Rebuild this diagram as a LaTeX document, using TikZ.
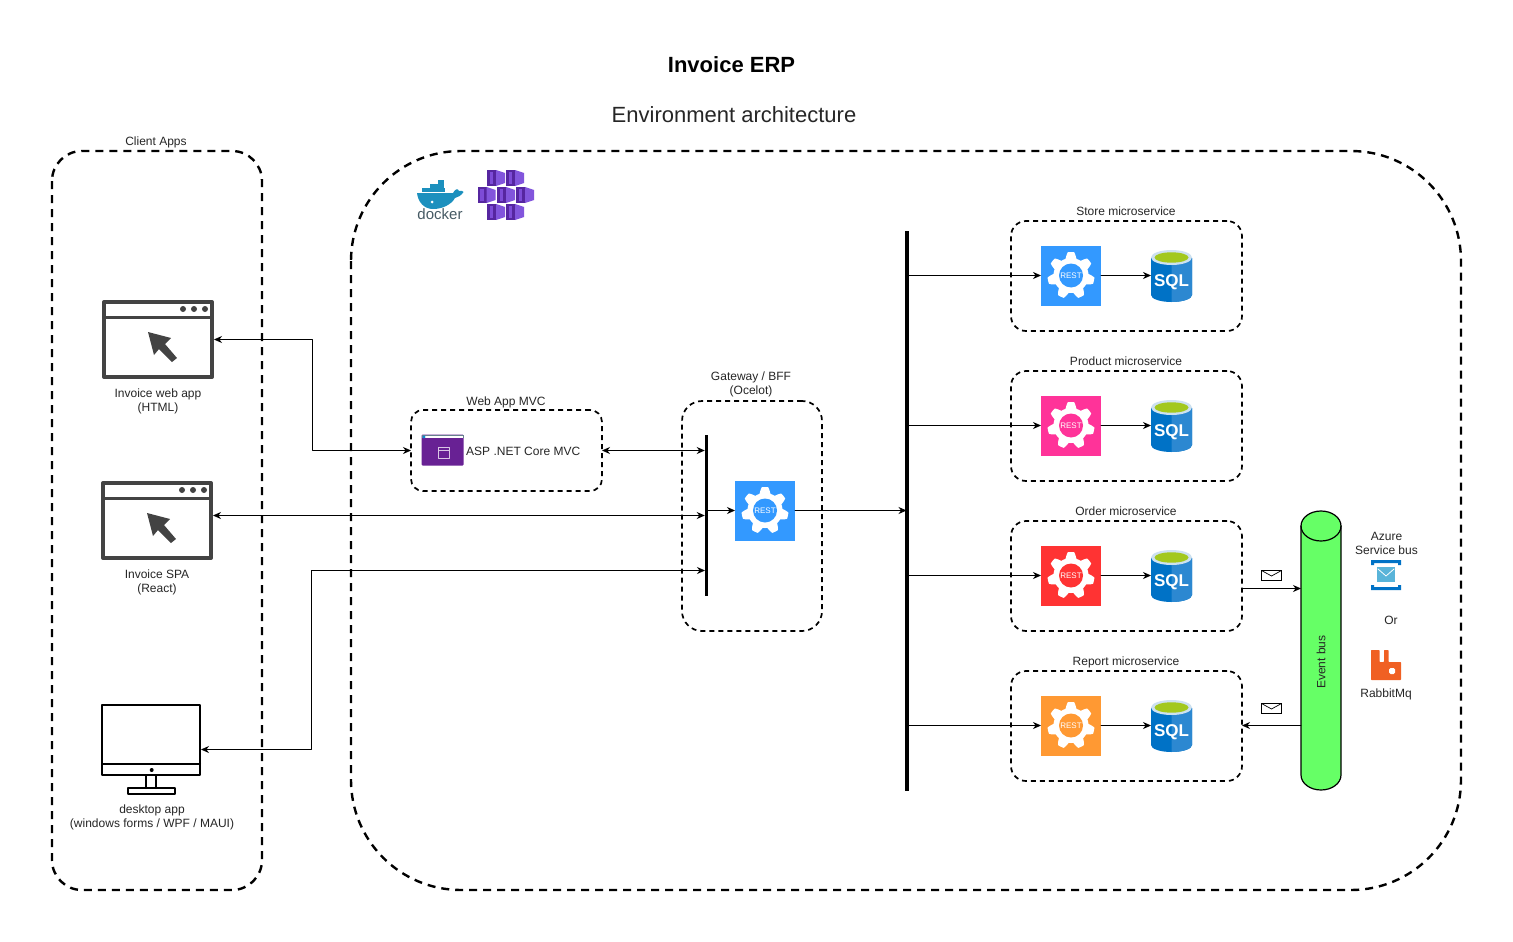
\documentclass[tikz,border=0pt]{standalone}
\usepackage{fontspec}
\setmainfont{Liberation Sans}
\usetikzlibrary{arrows.meta}
\begin{document}
\begin{tikzpicture}[x=1pt, y=-1pt, line cap=round, line join=round,
    >={Stealth[length=8pt,width=7pt]},
    link/.style={line width=0.8pt, ->},
    duplex/.style={line width=0.8pt, <->},
    label/.style={font=\fontsize{12}{14}\selectfont, text=black!85, align=center, inner sep=0pt},
    bigdash/.style={draw, line width=2.4pt, line cap=butt, dash pattern=on 8pt off 6pt},
    smalldash/.style={draw, line width=1.7pt, line cap=butt, dash pattern=on 5pt off 4pt},
    restbox/.style={minimum size=60pt, inner sep=0pt, outer sep=0pt},
    sqlbox/.style={minimum width=41pt, minimum height=52pt, inner sep=0pt, outer sep=0pt},
    windowbox/.style={draw=iconedge, line width=4pt, minimum width=108pt, minimum height=75pt, inner sep=0pt, outer sep=2pt},
    pics/restgear/.style={code={
      \fill[white,domain=0:360,samples=211]
        plot ({(20.5+3*max(-1,min(1,1.7*cos(7*(\x+90)))))*cos(\x)},{(20.5+3*max(-1,min(1,1.7*cos(7*(\x+90)))))*sin(\x)}) -- cycle;
      \fill[#1] (0,0) circle (12);
      \node[font=\fontsize{8}{9}\selectfont, text=white, inner sep=0pt] (-rest) at (0,0) {REST};
    }},
    pics/sqlicon/.style={code={
      \fill[sqlblue] (-20.5,-18) -- (-20.5,19) arc[x radius=20.5,y radius=7,start angle=180,end angle=0] -- (20.5,-18) -- cycle;
      \fill[sqllight] (0,-18) -- (0,26) arc[x radius=20.5,y radius=7,start angle=90,end angle=0] -- (20.5,-18) -- cycle;
      \fill[sqltop] (0,-18.5) ellipse (20.5 and 7.5);
      \fill[sqlgreen] (0,-18.5) ellipse (17 and 5.2);
      \node[font=\fontsize{17}{18}\bfseries\selectfont, text=white, inner sep=0pt] (-sql) at (0,6) {SQL};
    }},
    pics/browsericon/.style={code={
      \draw[iconedge,line width=3.5pt,line cap=butt] (-54,-22) -- (54,-22);
      \fill[iconedge] (25,-30.5) circle (3) (36,-30.5) circle (3) (47,-30.5) circle (3);
      \fill[iconedge] (-10,-7.5) -- (13,-1.5) -- (7,4.5) -- (19,18.5) -- (14,22.5) -- (1,9.5) -- (-4,15.5) -- cycle;
    }},
    pics/kubecube/.style={code={
      \fill[kubedark] (-9,-8) -- (0,-8) -- (0,8) -- (-9,8) -- cycle;
      \fill[kubemid] (-6.5,-6) -- (-3,-6) -- (-3,6) -- (-6.5,6) -- cycle;
      \fill[kubelight] (0,-8) -- (9,-5) -- (9,5) -- (0,8) -- cycle;
    }},
    pics/envelope/.style={code={
      \draw[line width=1pt,line join=miter,fill=white] (-10,-5) rectangle (10,5);
      \draw[line width=0.7pt] (-10,-5) -- (0,0.5) -- (10,-5);
    }}]
  \definecolor{iconedge}{RGB}{67,67,67}
  \definecolor{restblue}{RGB}{51,153,255}
  \definecolor{restpink}{RGB}{255,51,153}
  \definecolor{restred}{RGB}{255,51,51}
  \definecolor{restorange}{RGB}{255,153,51}
  \definecolor{sqlblue}{RGB}{0,114,198}
  \definecolor{sqllight}{RGB}{44,136,209}
  \definecolor{sqltop}{RGB}{205,225,240}
  \definecolor{sqlgreen}{RGB}{163,200,30}
  \definecolor{kubedark}{RGB}{86,38,160}
  \definecolor{kubemid}{RGB}{125,75,215}
  \definecolor{kubelight}{RGB}{130,85,220}
  \definecolor{mvcpurple}{RGB}{104,33,148}
  \definecolor{dockerblue}{RGB}{28,144,190}
  \definecolor{dockergray}{RGB}{70,90,100}
  \definecolor{busgreen}{RGB}{102,255,102}
  \definecolor{rabbitorange}{RGB}{240,96,35}
  \definecolor{azureblue}{RGB}{0,114,198}
  \definecolor{azuresky}{RGB}{89,180,217}
  \useasboundingbox (0,0) rectangle (1513,942);
  \fill[white] (0,0) rectangle (1513,942);

  \node[font=\fontsize{22}{24}\bfseries\selectfont, inner sep=0pt] (title) at (731.5,65) {Invoice ERP};
  \node[font=\fontsize{22}{24}\selectfont, text=black!85, inner sep=0pt] (subtitle) at (734,115) {Environment architecture};

  % outer frames
  \draw[bigdash, rounded corners=30pt] (52,151) rectangle (262,890);
  \draw[bigdash, rounded corners=110pt] (351,151) rectangle (1461,890);
  \node[label] (clientlabel) at (156,142) {Client Apps};

  % docker and container logos
  \fill[dockerblue] (417,193) -- (453,193) .. controls (455,189) and (458,188) .. (459,191) .. controls (461,190) and (463,191) .. (463.5,192) .. controls (461,196) and (458,197) .. (455,198) .. controls (451,205) and (442,209) .. (433,209) .. controls (424,209) and (418,202) .. (417,193);
  \fill[dockerblue] (422,188) rectangle (445,192);
  \fill[dockerblue] (430,184) rectangle (444,187.5);
  \fill[dockerblue] (438,180) rectangle (444,183.5);
  \fill[white] (432,202) circle (1.5);
  \node[font=\fontsize{15}{16}\selectfont, text=dockergray, inner sep=0pt] (dockertext) at (440,214.5) {docker};
  \pic at (496,178) {kubecube};
  \pic at (515,178) {kubecube};
  \pic at (486.5,195) {kubecube};
  \pic at (506,195) {kubecube};
  \pic at (525,195) {kubecube};
  \pic at (496,212) {kubecube};
  \pic at (515,212) {kubecube};

  % client apps
  \node[windowbox] (webapp) at (158,339.5) {};
  \pic at (webapp) {browsericon};
  \node[label] (weblabel) at (158,401) {Invoice web app\\(HTML)};
  \node[windowbox] (spa) at (157,520.5) {};
  \pic at (spa) {browsericon};
  \node[label] (spalabel) at (157,582) {Invoice SPA\\(React)};
  \node[draw, line width=2pt, minimum width=98pt, minimum height=70.5pt, inner sep=0pt, outer sep=1pt] (desktop) at (151,739.75) {};
  \draw[line width=2pt] (102,764) -- (200,764);
  \fill (151.7,770) circle (2);
  \draw[line width=2pt] (145.7,775) -- (145.7,788) (156.3,775) -- (156.3,788);
  \draw[line width=2pt] (128,788) rectangle (175,794);
  \node[label] (desktoplabel) at (152,817) {desktop app\\(windows forms / WPF / MAUI)};

  % web app
  \node[smalldash, rounded corners=12pt, minimum width=191pt, minimum height=81pt, inner sep=0pt, outer sep=0pt] (mvcbox) at (506.5,450.5) {};
  \node[label] (mvclabel) at (506,402) {Web App MVC};
  \node[fill=mvcpurple, minimum width=42pt, minimum height=31pt, inner sep=0pt, rounded corners=1pt] (mvcicon) at (442.5,450) {};
  \fill[black!50!cyan!60!gray] (421.5,434.5) rectangle (463.5,438);
  \fill[white] (424,436) rectangle (463,438);
  \fill[cyan!70!blue] (424,437) circle (1.6);
  \draw[white!75!mvcpurple, line width=0.7pt, line cap=butt] (438,447) rectangle (449,458) (438,450) -- (449,450);
  \node[label, anchor=west] (mvctext) at (466,451) {ASP .NET Core MVC};

  % gateway
  \node[smalldash, rounded corners=20pt, minimum width=140pt, minimum height=230pt, inner sep=0pt, outer sep=0pt] (gatewaybox) at (752,516) {};
  \node[label] (gatewaylabel) at (751,384) {Gateway / BFF\\(Ocelot)};
  \node[fill=black, minimum width=3.5pt, minimum height=161pt, inner sep=0pt, outer sep=0pt] (gatewaybar) at (706.5,515.5) {};
  \node[restbox, fill=restblue] (gatewayapi) at (765,510.5) {};
  \pic (gatewaygear) at (gatewayapi) {restgear=restblue};

  \node[fill=black, minimum width=4pt, minimum height=560pt, inner sep=0pt, outer sep=0pt] (busbar) at (906.5,510.5) {};

  % microservices
  \node[smalldash, rounded corners=15pt, minimum width=231pt, minimum height=110pt, inner sep=0pt, outer sep=0pt] (storebox) at (1126.5,276) {};
  \node[label] (storelabel) at (1126,211) {Store microservice};
  \node[restbox, fill=restblue] (storeapi) at (1071,275.5) {};
  \pic (storegear) at (storeapi) {restgear=restblue};
  \node[sqlbox] (storedb) at (1171.5,276) {};
  \pic (storeicon) at (storedb) {sqlicon};

  \node[smalldash, rounded corners=15pt, minimum width=231pt, minimum height=110pt, inner sep=0pt, outer sep=0pt] (productbox) at (1126.5,426) {};
  \node[label] (productlabel) at (1126,361) {Product microservice};
  \node[restbox, fill=restpink] (productapi) at (1071,425.5) {};
  \pic (productgear) at (productapi) {restgear=restpink};
  \node[sqlbox] (productdb) at (1171.5,426) {};
  \pic (producticon) at (productdb) {sqlicon};

  \node[smalldash, rounded corners=15pt, minimum width=231pt, minimum height=110pt, inner sep=0pt, outer sep=0pt] (orderbox) at (1126.5,576) {};
  \node[label] (orderlabel) at (1126,511) {Order microservice};
  \node[restbox, fill=restred] (orderapi) at (1071,575.5) {};
  \pic (ordergear) at (orderapi) {restgear=restred};
  \node[sqlbox] (orderdb) at (1171.5,576) {};
  \pic (ordericon) at (orderdb) {sqlicon};

  \node[smalldash, rounded corners=15pt, minimum width=231pt, minimum height=110pt, inner sep=0pt, outer sep=0pt] (reportbox) at (1126.5,726) {};
  \node[label] (reportlabel) at (1126,662) {Report microservice};
  \node[restbox, fill=restorange] (reportapi) at (1071,725.5) {};
  \pic (reportgear) at (reportapi) {restgear=restorange};
  \node[sqlbox] (reportdb) at (1171.5,726) {};
  \pic (reporticon) at (reportdb) {sqlicon};

  % event bus
  \node[minimum width=40pt, minimum height=279pt, inner sep=0pt, outer sep=0pt] (eventbus) at (1321,650.5) {};
  \draw[line width=1.2pt, fill=busgreen] (1301,526) -- (1301,775) arc[x radius=20,y radius=15,start angle=180,end angle=0] -- (1341,526) arc[x radius=20,y radius=15,start angle=0,end angle=-180] -- cycle;
  \draw[line width=1.2pt] (1301,526) arc[x radius=20,y radius=15,start angle=180,end angle=0];
  \node[label, rotate=90] (buslabel) at (1321,662) {Event bus};
  \node[label] (azurelabel) at (1386.5,543) {Azure\\Service bus};
  \fill[azureblue] (1371,560) rectangle (1401,563) (1371,560) rectangle (1374,565) (1398,560) rectangle (1401,565);
  \fill[azureblue] (1371,587) rectangle (1401,590) (1371,585) rectangle (1374,590) (1398,585) rectangle (1401,590);
  \fill[azuresky] (1377,567) rectangle (1395,582);
  \draw[white, line width=0.8pt] (1378,569) -- (1386,576) -- (1394,569);
  \node[label] (orlabel) at (1391,620) {Or};
  \fill[rabbitorange, rounded corners=0.7pt] (1371,650) -- (1379.5,650) -- (1379.5,662) -- (1384,662) -- (1384,650) -- (1388.5,650) -- (1388.5,662) -- (1401,662) -- (1401,680) -- (1371,680) -- cycle;
  \fill[white, rounded corners=1.5pt] (1389,668) rectangle (1395,674);
  \node[label] (rabbitlabel) at (1386,694) {RabbitMq};
  \pic at (1271.5,575.5) {envelope};
  \pic at (1271.5,708.5) {envelope};

  % connectors
  \coordinate (webbend) at (312.5,450.5);
  \coordinate (desktopbend) at (311.5,749.5);
  \coordinate (barleft) at (705,570.5);
  \draw[duplex] (webapp.east) -- (webapp.east -| webbend) |- (mvcbox.west);
  \draw[duplex] (mvcbox.east) -- (gatewaybar.west |- mvcbox.east);
  \draw[duplex] (spa.east |- 0,515.5) -- (gatewaybar.west |- 0,515.5);
  \draw[duplex] (desktop.east |- desktopbend) -- (desktopbend) |- (barleft);
  \draw[link] (gatewaybar.east |- gatewayapi) -- (gatewayapi.west);
  \draw[link] (gatewayapi.east) -- (busbar.center |- gatewayapi);
  \draw[link] (busbar.east |- storeapi) -- (storeapi.west);
  \draw[link] (storeapi.east) -- (storedb.west |- storeapi);
  \draw[link] (busbar.east |- productapi) -- (productapi.west);
  \draw[link] (productapi.east) -- (productdb.west |- productapi);
  \draw[link] (busbar.east |- orderapi) -- (orderapi.west);
  \draw[link] (orderapi.east) -- (orderdb.west |- orderapi);
  \draw[link] (busbar.east |- reportapi) -- (reportapi.west);
  \draw[link] (reportapi.east) -- (reportdb.west |- reportapi);
  \coordinate (busin) at (1301,588.5);
  \coordinate (busout) at (1301,725.5);
  \draw[link] (orderbox.east |- busin) -- (eventbus.west |- busin);
  \draw[link] (eventbus.west |- busout) -- (reportbox.east |- busout);
\end{tikzpicture}
\end{document}
